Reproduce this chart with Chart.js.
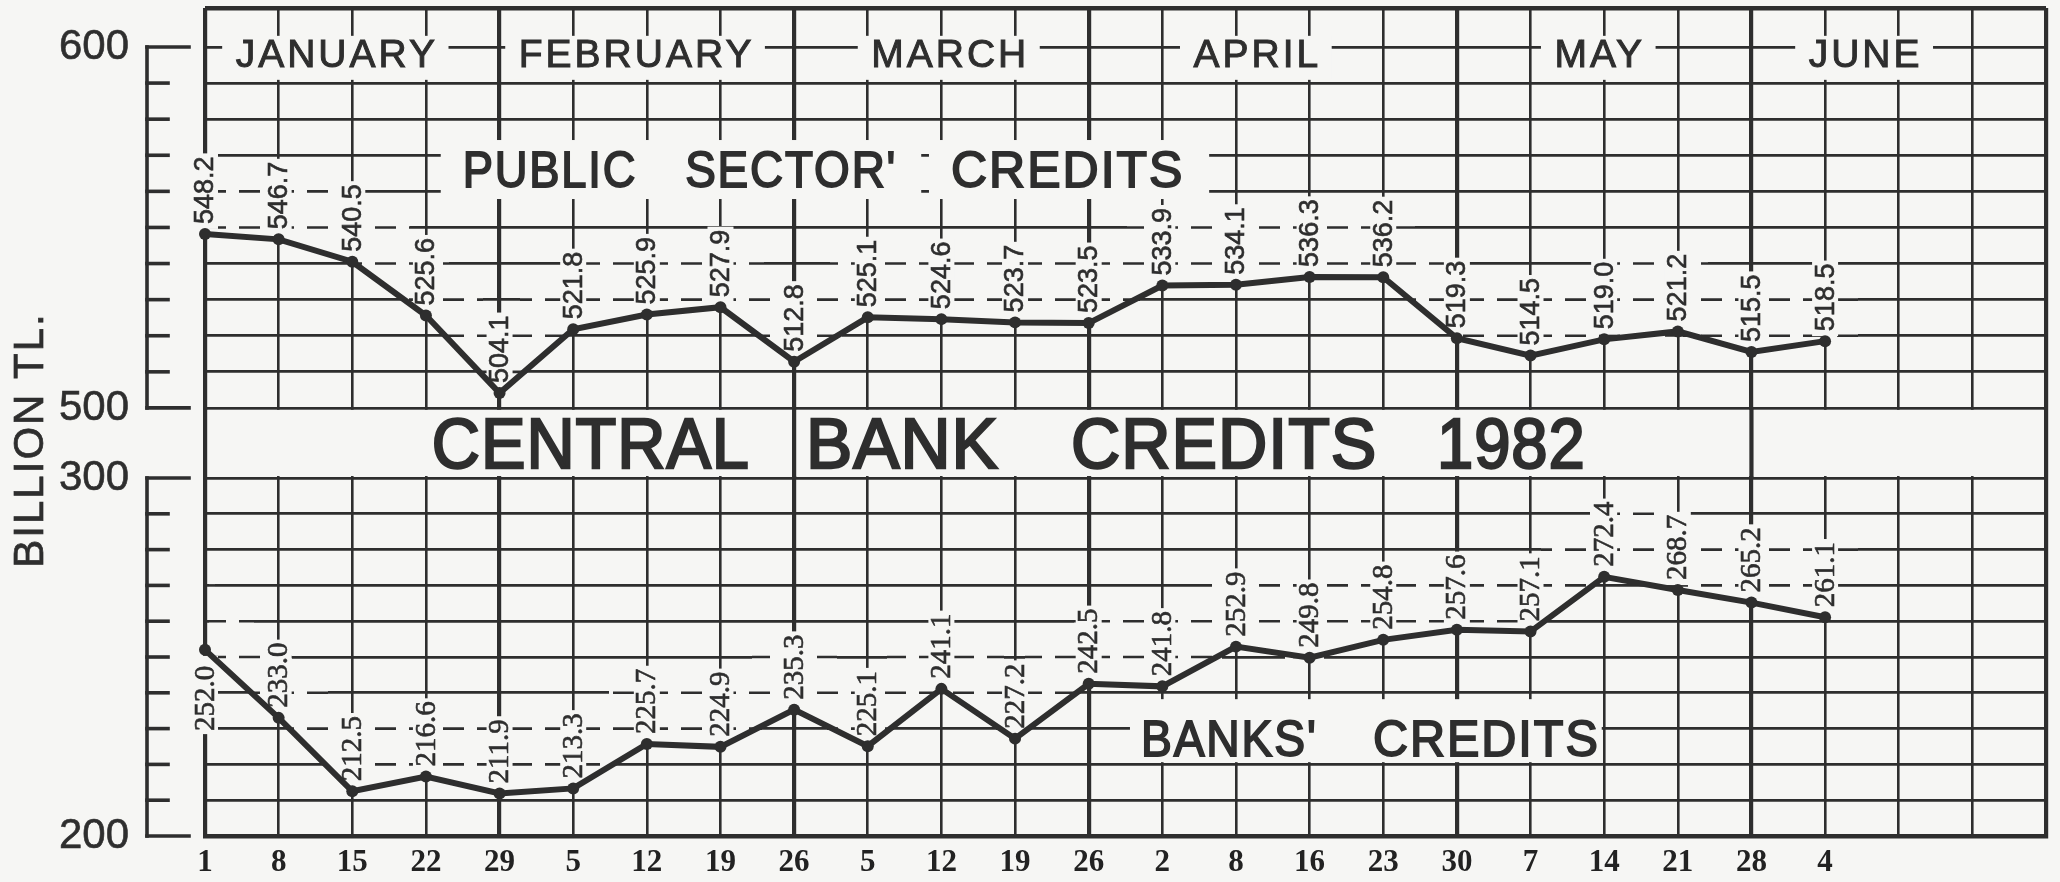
<!DOCTYPE html>
<html>
<head>
<meta charset="utf-8">
<title>Central Bank Credits 1982</title>
<script src="https://cdn.jsdelivr.net/npm/chart.js@4.4.1/dist/chart.umd.min.js"></script>
<style>
  html, body { margin: 0; padding: 0; background: #f6f6f4; }
  #chart { display: block; }
</style>
</head>
<body>
<canvas id="chart" width="2060" height="882"></canvas>
<script>
// ---------------- data ----------------
const dayLabels = ['1','8','15','22','29','5','12','19','26','5','12','19','26','2','8','16','23','30','7','14','21','28','4'];
const monthNames = ['JANUARY','FEBRUARY','MARCH','APRIL','MAY','JUNE'];
const publicSectorCredits = [548.2,546.7,540.5,525.6,504.1,521.8,525.9,527.9,512.8,525.1,524.6,523.7,523.5,533.9,534.1,536.3,536.2,519.3,514.5,519.0,521.2,515.5,518.5];
const banksCredits = [252.0,233.0,212.5,216.6,211.9,213.3,225.7,224.9,235.3,225.1,241.1,227.2,242.5,241.8,252.9,249.8,254.8,257.6,257.1,272.4,268.7,265.2,261.1];
const upperTickLabels = [600, 500];
const lowerTickLabels = [300, 200];
const upperGridValues = [500,510,520,530,540,550,560,570,580,590,600];
const lowerGridValues = [200,210,220,230,240,250,260,270,280,290,300];

// ---------------- styles / layout ----------------
const INK = '#2e2e2e';
const PAPER = '#f6f6f4';
const SANS = '"Liberation Sans", Arial, Helvetica, sans-serif';
const SERIF = '"Liberation Serif", "Times New Roman", serif';
const UPPER_MIN = 381.4, UPPER_MAX = 610.8;
const LOWER_MIN = 200, LOWER_MAX = 431.3;
const EXTRA_COLUMNS = 3;
const THICK_COLUMNS = [0, 4, 8, 12, 17, 21, 25];
const BAND_COLUMNS = [8, 21];
const LABEL_GAP = 10;
const UPPER_LABEL_FONT = '27px ' + SANS;
const LOWER_LABEL_FONT = '29px ' + SERIF;
const LOWER_BELOW = [0];

const layout = {
  monthCenters: [1.77, 5.84, 10.10, 14.27, 18.92, 22.53],
  monthBase: 594.5,
  title: [['CENTRAL', 3.08, 7.40], ['BANK', 8.16, 10.78], ['CREDITS', 11.76, 15.92], ['1982', 16.73, 18.75]],
  upperName: [[['PUBLIC', 3.50, 5.87], ["SECTOR'", 6.52, 9.40]], [['CREDITS', 10.13, 13.31]]],
  upperNameBase: 561.2,
  lowerName: [[["BANKS'", 12.71, 15.11], ['CREDITS', 15.86, 18.94]]],
  lowerNameBase: 222.3
};

function lerp(xs, ys, px) {
  const n = xs.length;
  if (px <= xs[0]) return ys[0];
  if (px >= xs[n - 1]) return ys[n - 1];
  for (let i = 0; i < n - 1; i++) {
    if (px <= xs[i + 1]) {
      const t = (px - xs[i]) / (xs[i + 1] - xs[i]);
      return ys[i] + t * (ys[i + 1] - ys[i]);
    }
  }
  return ys[n - 1];
}

function geometry(chart, data, scale, font) {
  const ctx = chart.ctx, x = chart.scales.x;
  ctx.save();
  ctx.font = font;
  const g = data.map((v, i) => {
    const txt = v.toFixed(1);
    const L = ctx.measureText(txt).width;
    const px = x.getPixelForValue(i), py = scale.getPixelForValue(v);
    return { txt, L, px, py, top: py - LABEL_GAP - L };
  });
  ctx.restore();
  return g;
}

function dashBand(chart, g, scale, gridValues) {
  const { ctx, chartArea: ca } = chart;
  const x = chart.scales.x;
  const step = x.getPixelForValue(1) - x.getPixelForValue(0);
  const xs = g.map(p => p.px), tops = g.map(p => p.top + 1), lines = g.map(p => p.py + 3);
  const x0 = Math.max(ca.left + 4, xs[0] - 0.45 * step);
  const x1 = Math.min(ca.right - 4, xs[xs.length - 1] + 0.45 * step);
  ctx.save();
  ctx.strokeStyle = INK; ctx.lineWidth = 2.6; ctx.setLineDash([21, 13]);
  gridValues.forEach(v => {
    const Y = scale.getPixelForValue(v);
    const seg = (a, b) => {
      if (b - a < 6) return;
      ctx.fillStyle = PAPER;
      ctx.fillRect(a, Y - 2.6, b - a, 5.2);
      ctx.lineDashOffset = (a - ca.left) % 34;
      ctx.beginPath(); ctx.moveTo(a, Y); ctx.lineTo(b, Y); ctx.stroke();
    };
    let start = null;
    for (let px = x0; px <= x1 + 1; px += 1) {
      const inside = px <= x1 && Y >= lerp(xs, tops, px) && Y <= lerp(xs, lines, px);
      if (inside && start === null) start = px;
      if (!inside && start !== null) { seg(start, px - 1); start = null; }
    }
  });
  ctx.restore();
}

function drawValueLabels(chart, g, font, belowIdx) {
  const ctx = chart.ctx;
  ctx.save();
  ctx.font = font;
  g.forEach((p, i) => {
    const below = belowIdx.includes(i);
    let start, boxTop, boxBot;
    if (below) { start = p.py + 16 + p.L; boxTop = p.py + 6; boxBot = start + 3; }
    else { start = p.py - LABEL_GAP; boxTop = p.top - 3; boxBot = p.py - 5; }
    ctx.fillStyle = PAPER;
    ctx.fillRect(p.px - 13, boxTop, 26, boxBot - boxTop);
    ctx.save();
    ctx.translate(p.px + 1, start);
    ctx.rotate(-Math.PI / 2);
    ctx.fillStyle = INK; ctx.textAlign = 'left'; ctx.textBaseline = 'middle';
    ctx.strokeStyle = INK; ctx.lineWidth = 0.6;
    ctx.fillText(p.txt, 0, 0);
    ctx.strokeText(p.txt, 0, 0);
    ctx.restore();
  });
  ctx.restore();
}

function drawWords(ctx, x, words, baseline, font, ls, stroke) {
  ctx.save();
  ctx.font = font;
  ctx.letterSpacing = ls + 'px';
  ctx.fillStyle = INK; ctx.strokeStyle = INK; ctx.lineWidth = stroke;
  ctx.textAlign = 'left'; ctx.textBaseline = 'alphabetic';
  words.forEach(([w, a, b]) => {
    const xa = x.getPixelForValue(a), xb = x.getPixelForValue(b);
    ctx.fillText(w, xa, baseline, xb - xa);
    if (stroke > 0) ctx.strokeText(w, xa, baseline, xb - xa);
  });
  ctx.restore();
}

function boxedGroups(ctx, x, groups, baseline, font, ls, padL, padR, up, down, stroke) {
  groups.forEach(words => {
    const xa = x.getPixelForValue(words[0][1]) - padL;
    const xb = x.getPixelForValue(words[words.length - 1][2]) + padR;
    ctx.fillStyle = PAPER;
    ctx.fillRect(xa, baseline - up, xb - xa, up + down);
    drawWords(ctx, x, words, baseline, font, ls, stroke);
  });
}

const decor = {
  id: 'decor',
  beforeDatasetsDraw(chart) {
    const { ctx, chartArea: ca } = chart;
    const { x, yTop, yBot } = chart.scales;
    ctx.save();

    // title band between the two panels
    const bandTop = yTop.getPixelForValue(500) + 2;
    const bandBot = yBot.getPixelForValue(300) - 2;
    ctx.fillStyle = PAPER;
    ctx.fillRect(ca.left + 3, bandTop, ca.right - ca.left - 6, bandBot - bandTop);
    ctx.strokeStyle = INK; ctx.lineWidth = 4.2;
    BAND_COLUMNS.forEach(i => {
      const px = x.getPixelForValue(i);
      ctx.beginPath(); ctx.moveTo(px, bandTop - 1); ctx.lineTo(px, bandBot + 1); ctx.stroke();
    });

    // dashed label bands + value labels
    const gU = geometry(chart, publicSectorCredits, yTop, UPPER_LABEL_FONT);
    const gL = geometry(chart, banksCredits, yBot, LOWER_LABEL_FONT);
    dashBand(chart, gU, yTop, upperGridValues);
    dashBand(chart, gL, yBot, lowerGridValues);
    drawValueLabels(chart, gU, UPPER_LABEL_FONT, []);
    drawValueLabels(chart, gL, LOWER_LABEL_FONT, LOWER_BELOW);

    // series names
    boxedGroups(ctx, x, layout.upperName, yTop.getPixelForValue(layout.upperNameBase), '50px ' + SANS, 2, 22, 24, 47, 12, 1.8);
    boxedGroups(ctx, x, layout.lowerName, yBot.getPixelForValue(layout.lowerNameBase), '50px ' + SANS, 2, 11, 2, 57, 6, 1.8);

    // month names
    const mBase = yTop.getPixelForValue(layout.monthBase);
    ctx.font = '39px ' + SANS;
    ctx.letterSpacing = '3px';
    monthNames.forEach((m, i) => {
      const cx = x.getPixelForValue(layout.monthCenters[i]);
      const w = ctx.measureText(m).width;
      ctx.fillStyle = PAPER;
      ctx.fillRect(cx - w / 2 - 12, mBase - 31, w + 24, 44);
      ctx.fillStyle = INK; ctx.strokeStyle = INK; ctx.lineWidth = 1.0;
      ctx.textAlign = 'center'; ctx.textBaseline = 'alphabetic';
      ctx.fillText(m, cx + 1.5, mBase);
      ctx.strokeText(m, cx + 1.5, mBase);
    });
    ctx.letterSpacing = '0px';

    // main title
    drawWords(ctx, x, layout.title, yBot.getPixelForValue(300) - 10, '70px ' + SANS, 1, 2.4);

    // left rulers
    ctx.strokeStyle = INK; ctx.lineWidth = 3.6; ctx.lineCap = 'square';
    const rulerX = ca.left - 58;
    [[yTop, upperGridValues], [yBot, lowerGridValues]].forEach(([s, vals]) => {
      const yA = s.getPixelForValue(vals[vals.length - 1]), yB = s.getPixelForValue(vals[0]);
      ctx.beginPath(); ctx.moveTo(rulerX, yA); ctx.lineTo(rulerX, yB); ctx.stroke();
      vals.forEach((v, k) => {
        const y = s.getPixelForValue(v);
        const len = (k === 0 || k === vals.length - 1) ? 42 : 21;
        ctx.beginPath(); ctx.moveTo(rulerX, y); ctx.lineTo(rulerX + len, y); ctx.stroke();
      });
    });

    // axis title
    ctx.save();
    ctx.translate(31, (yTop.getPixelForValue(500) + yBot.getPixelForValue(300)) / 2 - 3);
    ctx.rotate(-Math.PI / 2);
    ctx.font = '42px ' + SANS;
    ctx.letterSpacing = '2px';
    ctx.fillStyle = INK; ctx.strokeStyle = INK; ctx.lineWidth = 0.7;
    ctx.textAlign = 'center'; ctx.textBaseline = 'middle';
    ctx.fillText('BILLION TL.', 0, 0);
    ctx.strokeText('BILLION TL.', 0, 0);
    ctx.restore();

    ctx.restore();
  }
};

const xLabels = dayLabels.concat(Array(EXTRA_COLUMNS).fill(''));

const yTicks = (labels) => ({
  autoSkip: false, mirror: true, crossAlign: 'near', padding: -146, color: INK,
  textStrokeColor: INK, textStrokeWidth: 0.6,
  font: { family: SANS, size: 42 },
  callback: v => labels.includes(v) ? String(v) : ''
});

new Chart(document.getElementById('chart'), {
  type: 'line',
  data: {
    labels: xLabels,
    datasets: [
      { label: "PUBLIC SECTOR' CREDITS", data: publicSectorCredits, yAxisID: 'yTop',
        borderColor: INK, backgroundColor: INK, borderWidth: 6, tension: 0, fill: false,
        pointRadius: 6, pointBackgroundColor: INK, pointBorderWidth: 0, borderCapStyle: 'round' },
      { label: "BANKS' CREDITS", data: banksCredits, yAxisID: 'yBot',
        borderColor: INK, backgroundColor: INK, borderWidth: 6, tension: 0, fill: false,
        pointRadius: 6, pointBackgroundColor: INK, pointBorderWidth: 0, borderCapStyle: 'round' }
    ]
  },
  options: {
    responsive: false,
    animation: false,
    devicePixelRatio: 1,
    layout: { padding: { left: 205, right: 14, top: 8, bottom: 0 } },
    plugins: { legend: { display: false }, tooltip: { enabled: false }, title: { display: false } },
    scales: {
      x: {
        type: 'category', offset: false,
        grid: { color: INK, offset: false, drawTicks: false,
                lineWidth: c => THICK_COLUMNS.includes(c.index) ? 4.2 : 2.6 },
        border: { display: true, color: INK, width: 4.5 },
        ticks: { autoSkip: false, maxRotation: 0, minRotation: 0, padding: 8, color: '#222',
                 font: { family: SERIF, size: 31, weight: 'bold' } },
        afterFit: s => { s.height = 46; s.paddingLeft = 0; s.paddingRight = 0; }
      },
      yTop: {
        type: 'linear', position: 'left', weight: 1, min: UPPER_MIN, max: UPPER_MAX, bounds: 'data',
        afterBuildTicks: ax => { ax.ticks = upperGridValues.concat([UPPER_MAX]).map(v => ({ value: v })); },
        afterFit: s => { s.width = 0; s.paddingTop = 0; s.paddingBottom = 0; },
        grid: { color: INK, drawTicks: false,
                lineWidth: c => (c.tick && c.tick.value === UPPER_MAX) ? 4.5 : 2.8 },
        border: { display: false },
        ticks: yTicks(upperTickLabels)
      },
      yBot: {
        type: 'linear', position: 'left', weight: 0, min: LOWER_MIN, max: LOWER_MAX, bounds: 'data',
        afterBuildTicks: ax => { ax.ticks = lowerGridValues.map(v => ({ value: v })); },
        afterFit: s => { s.width = 0; s.paddingTop = 0; s.paddingBottom = 0; },
        grid: { color: INK, drawTicks: false, lineWidth: 2.8 },
        border: { display: false },
        ticks: yTicks(lowerTickLabels)
      }
    }
  },
  plugins: [decor]
});
</script>
</body>
</html>
